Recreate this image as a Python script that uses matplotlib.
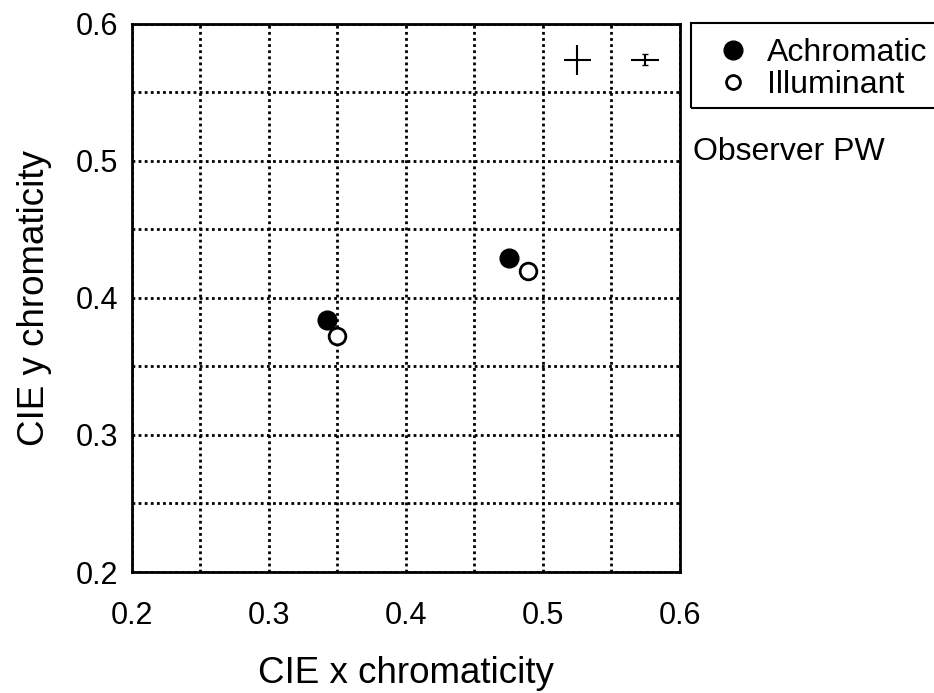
import matplotlib.pyplot as plt
import matplotlib.patches as mpatches
from matplotlib.lines import Line2D
import numpy as np

plt.rcParams['font.family'] = ['Liberation Sans', 'DejaVu Sans']

# chromaticity data
achromatic_x = [0.342, 0.475]
achromatic_y = [0.384, 0.429]
illuminant_x = [0.350, 0.489]
illuminant_y = [0.372, 0.420]

# typical error bars shown in the top-right corner
err_x = [0.525, 0.5745]
err_y = [0.574, 0.574]
err_xerr = [0.010, 0.010]
err_yerr = [0.011, 0.004]

fig = plt.figure(figsize=(9.34, 6.93), dpi=100)
ax = fig.add_axes([0.1413, 0.1746, 0.5867, 0.7908])

ax.plot(achromatic_x, achromatic_y, 'o', color='black', markersize=13.5)
ax.plot(illuminant_x, illuminant_y, 'o', markerfacecolor='white', markeredgecolor='black',
        markeredgewidth=2, markersize=12)

ax.errorbar(err_x[0], err_y[0], xerr=err_xerr[0], yerr=err_yerr[0], fmt='none',
            ecolor='black', elinewidth=1.5, capsize=0)
ax.errorbar(err_x[1], err_y[1], xerr=err_xerr[1], fmt='none',
            ecolor='black', elinewidth=1.5, capsize=0)
ax.errorbar(err_x[1], err_y[1], yerr=err_yerr[1], fmt='none',
            ecolor='black', elinewidth=1.5, capsize=2)

ax.set_xlim(0.2, 0.6)
ax.set_ylim(0.2, 0.6)
ax.set_xticks([0.2, 0.3, 0.4, 0.5, 0.6])
ax.set_yticks([0.2, 0.3, 0.4, 0.5, 0.6])
ax.set_xticks(np.arange(0.25, 0.6, 0.05), minor=True)
ax.set_yticks(np.arange(0.25, 0.6, 0.05), minor=True)
ax.tick_params(which='both', length=0, labelsize=22)
ax.tick_params(axis='x', pad=21)
ax.tick_params(axis='y', pad=10)
ax.grid(which='both', color='black', linestyle=(0, (1, 1.2)), linewidth=2)
ax.set_axisbelow(True)
for s in ax.spines.values():
    s.set_linewidth(2)

ax.set_xlabel('CIE x chromaticity', fontsize=26.5, labelpad=18)
ax.set_ylabel('CIE y chromaticity', fontsize=26.5, labelpad=17)

# legend box runs off the right edge of the figure
box = mpatches.Rectangle((691 / 934, 1 - 108 / 693), 260 / 934, 85 / 693,
                         transform=fig.transFigure, fill=False, edgecolor='black',
                         linewidth=1.5, clip_on=False)
fig.add_artist(box)

handles = [Line2D([], [], marker='o', color='black', linestyle='none', markersize=13.5),
           Line2D([], [], marker='o', markerfacecolor='white', markeredgecolor='black',
                  markeredgewidth=2, linestyle='none', markersize=10)]
fig.legend(handles, ['Achromatic', 'Illuminant'], loc='upper left',
           bbox_to_anchor=(717 / 934, 1 - 38 / 693), fontsize=23, frameon=False,
           handletextpad=0.56, borderpad=0, labelspacing=0.06, handlelength=1.0,
           borderaxespad=0)

fig.text(693 / 934, 1 - 160 / 693, 'Observer PW', fontsize=23, va='baseline')

plt.savefig('out.png', dpi=100)
